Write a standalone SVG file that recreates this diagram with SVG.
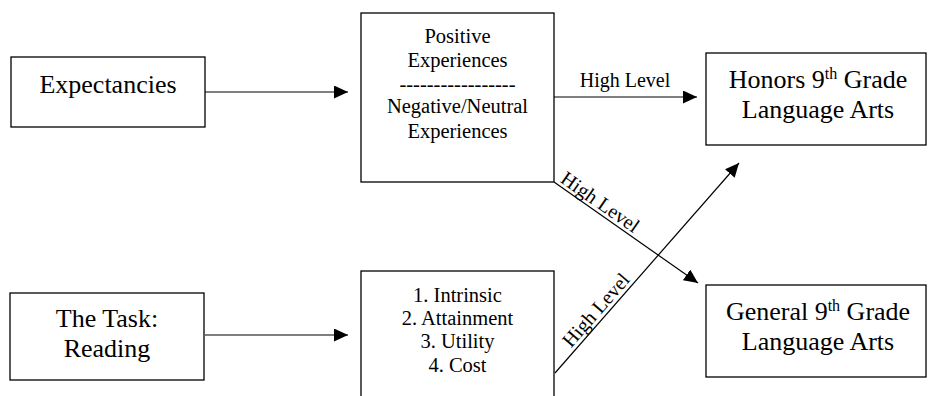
<svg xmlns="http://www.w3.org/2000/svg" width="928" height="396" viewBox="0 0 928 396">
<style>
.box{fill:#fff;stroke:#000;stroke-width:1.3}
.ln{fill:none;stroke:#000;stroke-width:1.2}
text{font-family:"Liberation Serif","Times New Roman",serif;fill:#000}
.big{font-size:26px;text-anchor:middle}
.mid{font-size:20.5px;text-anchor:middle}
.lbl{font-size:20px}
</style>
<defs>
<marker id="ah" markerUnits="userSpaceOnUse" markerWidth="15" markerHeight="14" refX="14" refY="6.5" orient="auto">
<path d="M0,0 L14,6.5 L0,13 Z" fill="#000"/>
</marker>
</defs>
<rect width="928" height="396" fill="#fff"/>
<g id="connectors">
<line class="ln" x1="205" y1="92" x2="348" y2="92" marker-end="url(#ah)"/>
<line class="ln" x1="205" y1="335" x2="348" y2="335" marker-end="url(#ah)"/>
<line class="ln" x1="554" y1="97" x2="697" y2="97" marker-end="url(#ah)"/>
<line class="ln" x1="554" y1="182" x2="698" y2="283" marker-end="url(#ah)"/>
<line class="ln" x1="555" y1="373" x2="739" y2="163" marker-end="url(#ah)"/>
<text class="lbl" x="625" y="87" text-anchor="middle">High Level</text>
<text class="lbl" transform="translate(554,182) rotate(35)" x="4" y="-3.5">High Level</text>
<text class="lbl" transform="translate(555,373) rotate(-48.8)" x="29" y="-4">High Level</text>
</g>
<g id="expectancies">
<rect class="box" x="11" y="57" width="194" height="70"/>
<text class="big" x="108" y="93">Expectancies</text>
</g>
<g id="task">
<rect class="box" x="10" y="293" width="194" height="87"/>
<text class="big" x="107" y="327">The Task:</text>
<text class="big" x="107" y="357">Reading</text>
</g>
<g id="experiences">
<rect class="box" x="361" y="13" width="193" height="169"/>
<text class="mid" x="457.5" y="43">Positive</text>
<text class="mid" x="457.5" y="67">Experiences</text>
<text class="mid" x="457.5" y="91">-----------------</text>
<text class="mid" x="457.5" y="113">Negative/Neutral</text>
<text class="mid" x="457.5" y="138">Experiences</text>
</g>
<g id="values">
<rect class="box" x="361" y="271" width="193" height="140"/>
<text class="mid" x="457.5" y="302">1. Intrinsic</text>
<text class="mid" x="457.5" y="325">2. Attainment</text>
<text class="mid" x="457.5" y="348">3. Utility</text>
<text class="mid" x="457.5" y="372">4. Cost</text>
</g>
<g id="honors">
<rect class="box" x="706" y="53" width="220" height="92"/>
<text class="big" x="818" y="88">Honors 9<tspan font-size="16" dy="-9">th</tspan><tspan dy="9"> Grade</tspan></text>
<text class="big" x="818" y="118">Language Arts</text>
</g>
<g id="general">
<rect class="box" x="706" y="285" width="220" height="92"/>
<text class="big" x="818" y="320">General 9<tspan font-size="16" dy="-9">th</tspan><tspan dy="9"> Grade</tspan></text>
<text class="big" x="818" y="350">Language Arts</text>
</g>
</svg>
